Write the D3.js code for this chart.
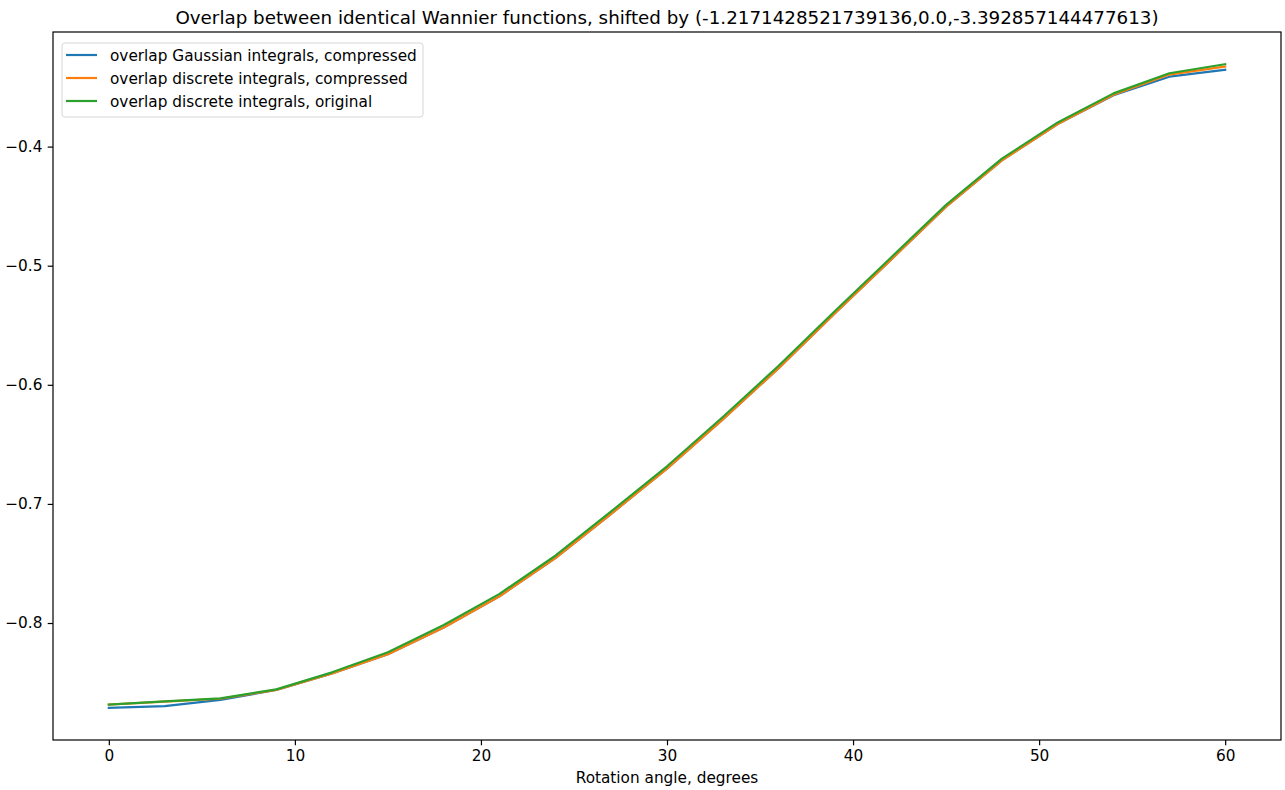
<!DOCTYPE html>
<html>
<head>
<meta charset="utf-8">
<script src="https://cdn.jsdelivr.net/npm/d3@7"></script>
<style>
  html, body { margin: 0; padding: 0; background: #fff; }
  svg { display: block; font-family: "DejaVu Sans", sans-serif; }
</style>
</head>
<body>
<svg id="chart" width="1285" height="790"></svg>
<script>
const angles = [0, 3, 6, 9, 12, 15, 18, 21, 24, 27, 30, 33, 36, 39, 42, 45, 48, 51, 54, 57, 60];
const gaussianCompressed = [-0.8712, -0.8698, -0.8646, -0.8562, -0.8424, -0.8262, -0.8037, -0.7775, -0.7455, -0.7083, -0.6704, -0.6290, -0.5860, -0.5404, -0.4955, -0.4505, -0.4115, -0.3810, -0.3568, -0.3413, -0.3355];
const discreteCompressed = [-0.8685, -0.8660, -0.8636, -0.8562, -0.8424, -0.8262, -0.8037, -0.7775, -0.7455, -0.7083, -0.6704, -0.6290, -0.5860, -0.5404, -0.4955, -0.4505, -0.4115, -0.3810, -0.3565, -0.3395, -0.3328];
const discreteOriginal = [-0.8684, -0.8658, -0.8633, -0.8557, -0.8414, -0.8245, -0.8017, -0.7755, -0.7435, -0.7063, -0.6684, -0.6270, -0.5840, -0.5384, -0.4937, -0.4489, -0.4101, -0.3797, -0.3553, -0.3384, -0.3308];
const seriesNames = ["overlap Gaussian integrals, compressed", "overlap discrete integrals, compressed", "overlap discrete integrals, original"];
const seriesColors = ["#1f77b4", "#ff7f0e", "#2ca02c"];
const xTicks = [0, 10, 20, 30, 40, 50, 60];
const yTicks = [-0.8, -0.7, -0.6, -0.5, -0.4];
const titleText = "Overlap between identical Wannier functions, shifted by (-1.2171428521739136,0.0,-3.392857144477613)";
const xLabel = "Rotation angle, degrees";

(function () {
const series = [gaussianCompressed, discreteCompressed, discreteOriginal];

const svg = d3.select("#chart");
const pLeft = 53, pRight = 1281, pTop = 32, pBottom = 740;
const fs = 15.3;

const xMin = d3.min(angles), xMax = d3.max(angles);
const xPad = (xMax - xMin) * 0.05;
const x = d3.scaleLinear().domain([xMin - xPad, xMax + xPad]).range([pLeft, pRight]);

const allY = series.flat();
const yMin = d3.min(allY), yMax = d3.max(allY);
const yPad = (yMax - yMin) * 0.05;
const y = d3.scaleLinear().domain([yMin - yPad, yMax + yPad]).range([pBottom, pTop]);

const minus = s => s.replace("-", "\u2212");

const xAxis = d3.axisBottom(x).tickValues(xTicks).tickSize(5.3).tickPadding(5.3).tickFormat(d3.format("d"));
const yAxis = d3.axisLeft(y).tickValues(yTicks).tickSize(5.3).tickPadding(5.3).tickFormat(d => minus(d3.format(".1f")(d)));

const line = d3.line().x((d, i) => x(angles[i])).y(d => y(d));
series.forEach((s, k) => {
  svg.append("path")
    .attr("d", line(s))
    .attr("fill", "none")
    .attr("stroke", seriesColors[k])
    .attr("stroke-width", 2.2)
    .attr("stroke-linejoin", "round")
    .attr("stroke-linecap", "square");
});

svg.append("rect")
  .attr("x", pLeft).attr("y", pTop)
  .attr("width", pRight - pLeft).attr("height", pBottom - pTop)
  .attr("fill", "none").attr("stroke", "#000").attr("stroke-width", 1.2);

const gx = svg.append("g").attr("transform", `translate(0,${pBottom})`).call(xAxis);
const gy = svg.append("g").attr("transform", `translate(${pLeft},0)`).call(yAxis);
[gx, gy].forEach(g => {
  g.select(".domain").remove();
  g.selectAll(".tick line").attr("stroke", "#000").attr("stroke-width", 1.2);
  g.selectAll(".tick text").attr("fill", "#000").style("font-size", fs + "px").style("font-family", "DejaVu Sans");
});

svg.append("text")
  .attr("x", (pLeft + pRight) / 2).attr("y", 24)
  .attr("text-anchor", "middle")
  .style("font-size", "18.3px").attr("fill", "#000")
  .text(titleText);

svg.append("text")
  .attr("x", (pLeft + pRight) / 2).attr("y", 783)
  .attr("text-anchor", "middle")
  .style("font-size", fs + "px").attr("fill", "#000")
  .text(xLabel);

const lg = svg.append("g");
lg.append("rect")
  .attr("x", 62).attr("y", 43).attr("width", 361).attr("height", 74)
  .attr("rx", 3).attr("fill", "#fff").attr("fill-opacity", 0.8)
  .attr("stroke", "#d6d6d6").attr("stroke-width", 1);
seriesNames.forEach((name, k) => {
  const cy = 55 + k * 23;
  lg.append("line")
    .attr("x1", 66).attr("x2", 97).attr("y1", cy).attr("y2", cy)
    .attr("stroke", seriesColors[k]).attr("stroke-width", 2.2);
  lg.append("text")
    .attr("x", 110).attr("y", cy + 5.5)
    .style("font-size", fs + "px").attr("fill", "#000")
    .text(name);
});
})();
</script>
</body>
</html>
